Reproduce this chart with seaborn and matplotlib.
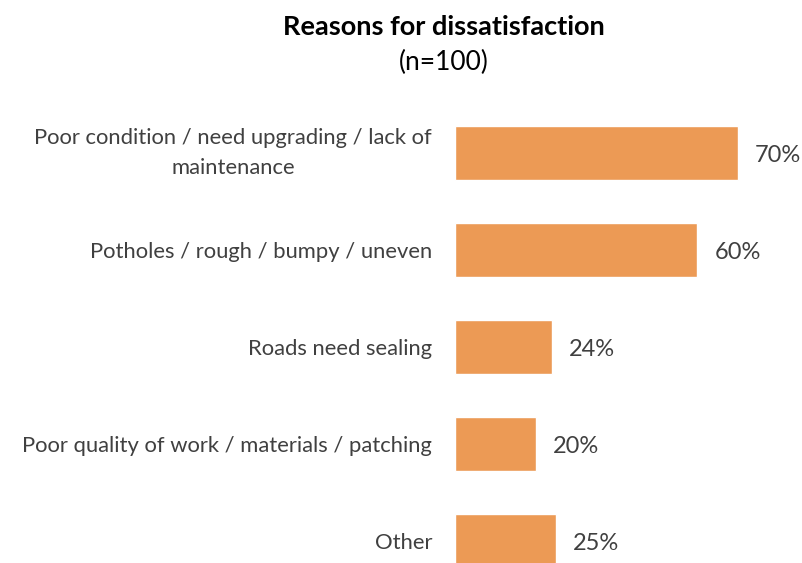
import matplotlib
matplotlib.use("Agg")
import matplotlib.pyplot as plt
import seaborn as sns
import pandas as pd

categories = [
    "Poor condition / need upgrading / lack of\nmaintenance",
    "Potholes / rough / bumpy / uneven",
    "Roads need sealing",
    "Poor quality of work / materials / patching",
    "Other",
]
values = [70, 60, 24, 20, 25]
value_labels = ["70%", "60%", "24%", "20%", "25%"]

title = "Reasons for dissatisfaction"
subtitle = "(n=100)"

sns.set_theme(style="white")
plt.rcParams["font.family"] = ["Lato", "DejaVu Sans"]

W, H = 802, 563
fig = plt.figure(figsize=(W / 100, H / 100), dpi=100)

ax_left, ax_top = 455, 105
ax = fig.add_axes([ax_left / W, 0, 1 - ax_left / W, (H - ax_top) / H])

df = pd.DataFrame({"reason": categories, "pct": values})
sns.barplot(data=df, y="reason", x="pct", orient="h", color="#EC9A55",
            saturation=1, width=0.56, ax=ax)

px_per_pct = 4.04
ax.set_xlim(0, (W - ax_left) / px_per_pct)
ax.set_ylim(4 + (563 - 541) / 97, -(153 - ax_top) / 97)

for i, (v, lab) in enumerate(zip(values, value_labels)):
    ax.annotate(lab, xy=(v, i), xytext=(12.2, -1.5), textcoords="offset points",
                ha="left", va="center", fontsize=17, color="#404040")

ax.set_xlabel("")
ax.set_ylabel("")
ax.set_xticks([])
ax.tick_params(axis="y", length=0, pad=16.5)
for t in ax.get_yticklabels():
    t.set_fontsize(15.8)
    t.set_color("#404040")
    t.set_multialignment("center")
    t.set_linespacing(1.6)
    if "\n" in t.get_text():
        t.set_verticalalignment("center")
for s in ax.spines.values():
    s.set_visible(False)

fig.text(444 / W, 1 - 27 / H, title, ha="center", va="center",
         fontsize=19.5, fontweight="bold", color="black")
fig.text(444 / W, 1 - 62 / H, subtitle, ha="center", va="center",
         fontsize=19, color="black")

fig.savefig("out.png", dpi=100)
